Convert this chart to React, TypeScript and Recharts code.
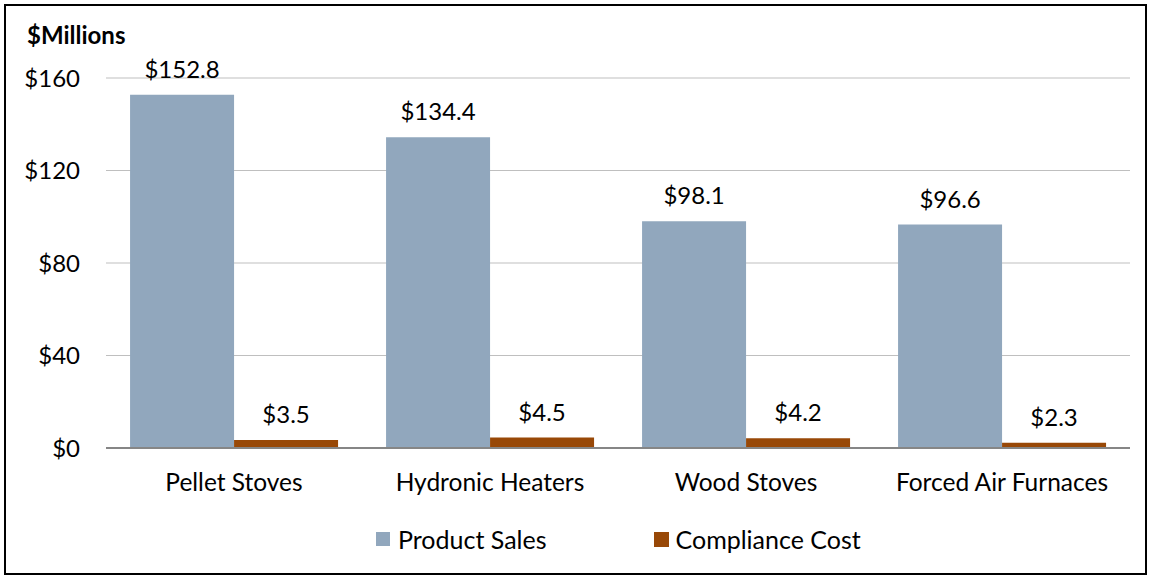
import React from "react";
import {
    BarChart,
    Bar,
    XAxis,
    YAxis,
    CartesianGrid,
    LabelList,
} from "recharts";

const categories = ["Pellet Stoves", "Hydronic Heaters", "Wood Stoves", "Forced Air Furnaces"];
const productSales = [152.8, 134.4, 98.1, 96.6];
const complianceCost = [3.5, 4.5, 4.2, 2.3];
const yTicks = [0, 40, 80, 120, 160];

const SALES_COLOR = "#91A7BD";
const COST_COLOR = "#984807";
const FONT = "Lato, 'Open Sans', sans-serif";

const data = categories.map((name, i) => ({
    name,
    sales: productSales[i],
    cost: complianceCost[i],
}));

const money = (v: any) => "$" + Number(v).toFixed(1);

// legend kept outside the chart so it doesn't shrink the plot area
const LegendBox = () => (
    <div
        style={{
            position: "absolute",
            top: 525,
            left: 376,
            display: "flex",
            fontFamily: FONT,
            fontSize: 25,
            color: "#000",
            lineHeight: "28px",
        }}
    >
        <div style={{ display: "flex", alignItems: "center", marginRight: 107 }}>
            <span style={{ width: 14, height: 14, background: SALES_COLOR, display: "inline-block", marginRight: 8 }} />
            Product Sales
        </div>
        <div style={{ display: "flex", alignItems: "center" }}>
            <span style={{ width: 15, height: 15, background: COST_COLOR, display: "inline-block", marginRight: 7 }} />
            Compliance Cost
        </div>
    </div>
);

const App: React.FC = () => {
    return (
        <div style={{ position: "absolute", left: 0, top: 0, width: 1151, height: 578, background: "#fff" }}>
            <div
                style={{
                    position: "absolute",
                    left: 4,
                    top: 4,
                    width: 1143,
                    height: 571,
                    border: "2px solid #000",
                    boxSizing: "border-box",
                }}
            />
            <div
                style={{
                    position: "absolute",
                    left: 27,
                    top: 20,
                    fontFamily: FONT,
                    fontWeight: "bold",
                    fontSize: 24,
                    color: "#000",
                }}
            >
                $Millions
            </div>
            <div style={{ position: "absolute", left: 0, top: 0 }}>
                <BarChart
                    width={1151}
                    height={578}
                    data={data}
                    margin={{ top: 78, right: 21, bottom: 100, left: 26 }}
                    barCategoryGap="9.4%"
                    barGap={0}
                >
                    <CartesianGrid vertical={false} stroke="#BFBFBF" strokeWidth={1} />
                    <XAxis
                        dataKey="name"
                        height={30}
                        tickLine={false}
                        tickSize={0}
                        tickMargin={26}
                        axisLine={{ stroke: "#868686", strokeWidth: 2 }}
                        tick={{ fill: "#000", fontSize: 24.5, fontFamily: FONT }}
                        interval={0}
                    />
                    <YAxis
                        width={80}
                        domain={[0, 160]}
                        ticks={yTicks}
                        tickFormatter={(v) => "$" + v}
                        axisLine={false}
                        tickLine={false}
                        tickSize={0}
                        tickMargin={26}
                        tick={{ fill: "#000", fontSize: 24, fontFamily: FONT }}
                    />
                    <Bar dataKey="sales" name="Product Sales" fill={SALES_COLOR} isAnimationActive={false}>
                        <LabelList
                            dataKey="sales"
                            position="top"
                            offset={17}
                            formatter={money}
                            style={{ fill: "#000", fontSize: 24, fontFamily: FONT }}
                        />
                    </Bar>
                    <Bar dataKey="cost" name="Compliance Cost" fill={COST_COLOR} isAnimationActive={false}>
                        <LabelList
                            dataKey="cost"
                            position="top"
                            offset={17}
                            formatter={money}
                            style={{ fill: "#000", fontSize: 24, fontFamily: FONT }}
                        />
                    </Bar>
                </BarChart>
            </div>
            <LegendBox />
        </div>
    );
};

export default App;
